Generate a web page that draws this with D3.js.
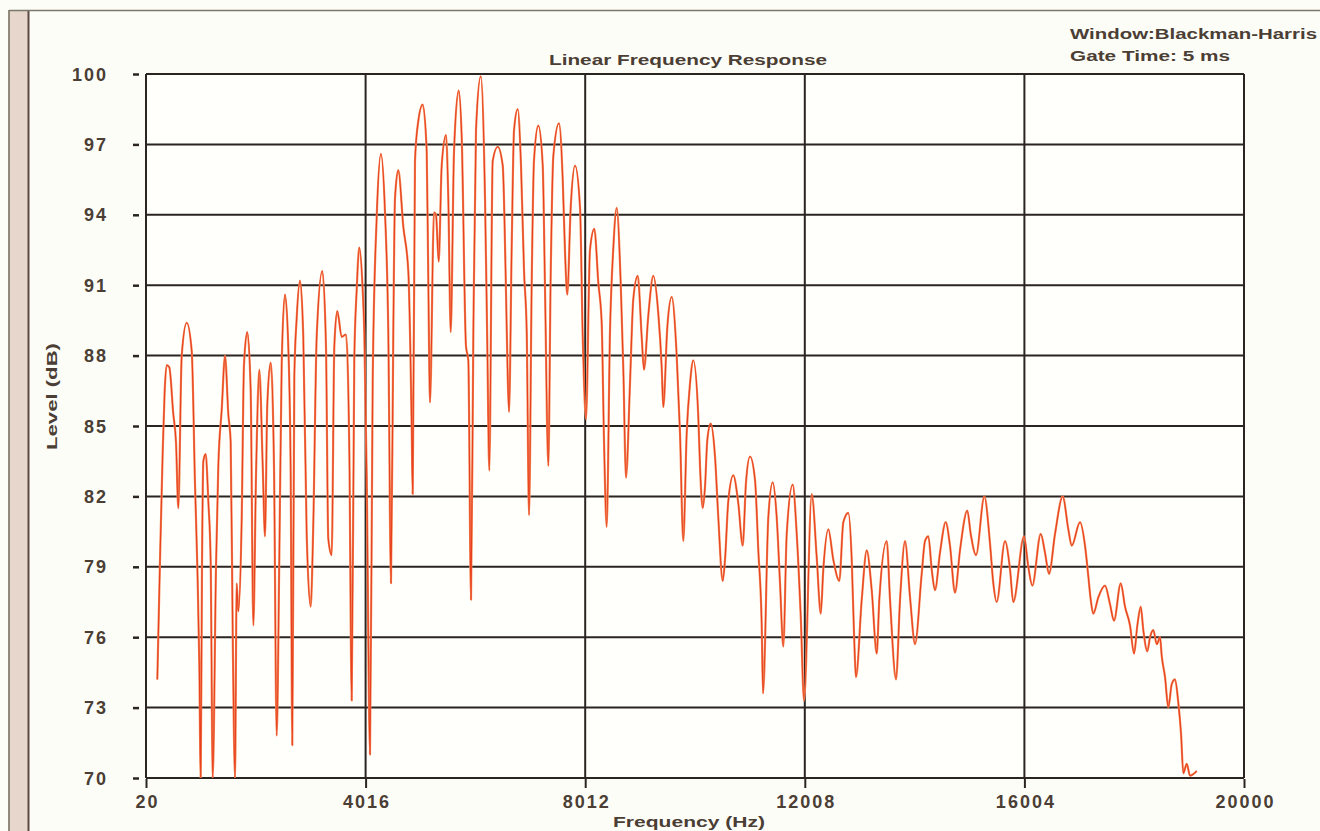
<!DOCTYPE html>
<html>
<head>
<meta charset="utf-8">
<script src="https://cdn.jsdelivr.net/npm/d3@7"></script>
<style>
  html, body { margin: 0; padding: 0; background: #fdfdf7; }
  svg { display: block; }
  text { font-family: "Liberation Sans", Arial, sans-serif; font-weight: bold; fill: #4b3e35; }
</style>
</head>
<body>
<svg id="chart" width="1320" height="831"></svg>
<script>
// ---- data ----
const xTicks = [20, 4016, 8012, 12008, 16004, 20000];
const yTicks = [70, 73, 76, 79, 82, 85, 88, 91, 94, 97, 100];
const titleText = "Linear Frequency Response";
const infoLines = ["Window:Blackman-Harris", "Gate Time: 5 ms"];
const xLabel = "Frequency (Hz)";
const yLabel = "Level (dB)";

const freqHz = [
  226,275,324,360,397,444,517,566,608,670,
  761,852,912,954,990,1015,1039,1063,1106,1154,
  1197,1234,1294,1336,1398,1458,1518,1561,1598,1640,
  1670,1700,1761,1803,1863,1925,1973,2022,2082,2144,
  2185,2227,2289,2349,2398,2446,2489,2549,2609,2653,
  2682,2719,2762,2822,2882,2944,3017,3064,3126,3228,
  3295,3337,3399,3447,3501,3581,3659,3720,3763,3810,
  3854,3901,3963,3992,4036,4096,4145,4218,4296,4369,
  4429,4478,4520,4551,4611,4702,4793,4855,4873,4915,
  4975,5055,5128,5157,5188,5261,5297,5346,5401,5479,
  5521,5565,5625,5710,5765,5843,5885,5934,5976,6025,
  6111,6189,6231,6267,6329,6420,6511,6565,6602,6626,
  6675,6717,6784,6844,6899,6948,6990,7039,7080,7159,
  7239,7281,7341,7384,7432,7535,7603,7645,7686,7748,
  7827,7918,7967,8027,8099,8178,8251,8312,8354,8403,
  8463,8524,8585,8658,8706,8755,8827,8887,8968,9040,
  9082,9160,9251,9342,9404,9433,9506,9586,9677,9737,
  9797,9859,9919,9979,10070,10101,10150,10192,10234,10296,
  10374,10434,10514,10556,10616,10707,10798,10878,10938,11011,
  11102,11162,11224,11248,11344,11424,11497,11557,11617,11679,
  11788,11861,11934,11994,12134,12225,12298,12345,12436,12527,
  12636,12709,12800,12862,12903,12940,13044,13135,13226,13317,
  13364,13499,13559,13668,13741,13832,13923,14014,14135,14196,
  14256,14317,14377,14468,14572,14650,14741,14832,14965,15027,
  15124,15275,15378,15438,15500,15651,15742,15802,15997,16075,
  16148,16301,16379,16452,16561,16701,16803,16865,17016,17107,
  17167,17211,17258,17349,17471,17562,17635,17757,17835,17926,
  17999,18059,18121,18168,18241,18290,18350,18412,18472,18503,
  18563,18623,18685,18745,18805,18854,18896,18958,19018,19140
];
const levelDb = [
  74.2,79.3,83.9,86.5,87.6,87.5,85.5,84.3,81.5,88.0,
  89.4,88.2,82.5,79.0,74.9,70.0,79.0,83.5,83.8,81.8,
  79.2,70.0,79.0,83.3,85.7,88.0,85.5,84.3,76.1,70.0,
  78.3,77.1,81.0,87.6,89.0,86.5,76.5,82.9,87.4,83.3,
  80.3,85.9,87.7,83.3,71.8,79.4,87.6,90.6,88.4,82.9,
  71.4,87.1,89.6,91.2,88.8,80.4,77.3,80.8,88.8,91.6,
  88.4,80.2,79.5,88.4,89.9,88.8,88.9,83.9,73.3,87.8,
  90.8,92.6,90.8,89.0,82.9,71.0,86.9,93.9,96.6,94.1,
  89.0,78.3,89.0,94.7,95.9,93.5,91.6,84.9,82.1,96.3,
  98.0,98.7,96.7,91.2,86.0,94.1,94.0,92.0,96.1,97.4,
  94.7,89.0,96.7,99.3,97.3,88.4,87.8,77.6,88.8,97.6,
  99.9,94.7,88.4,83.1,96.3,96.9,96.1,91.4,87.1,85.6,
  92.7,97.6,98.5,96.1,91.6,89.0,81.2,91.2,96.3,97.8,
  96.1,90.8,83.3,91.4,96.5,97.9,95.5,92.4,90.6,94.3,
  96.1,94.3,88.8,85.3,92.5,93.4,91.1,89.4,84.4,80.7,
  89.0,92.6,94.3,91.1,87.4,82.8,86.8,90.4,91.4,88.8,
  87.4,89.7,91.4,89.8,87.5,85.8,89.2,90.5,88.0,84.7,
  80.1,84.7,86.8,87.8,85.4,83.3,81.5,82.4,84.4,85.1,
  83.7,81.1,78.4,79.3,81.8,82.9,81.7,79.9,82.6,83.7,
  82.7,79.7,76.5,73.6,81.1,82.6,81.1,78.3,75.6,80.4,
  82.5,80.4,76.9,73.3,82.1,79.4,77.0,78.9,80.6,79.3,
  78.4,80.9,81.3,79.3,76.2,74.3,77.6,79.7,78.0,75.3,
  77.6,80.1,77.6,74.2,77.6,80.1,77.7,75.7,78.7,80.1,
  80.3,78.9,78.0,79.6,80.9,79.9,77.9,79.7,81.4,80.4,
  79.5,82.0,80.0,78.3,77.5,80.1,78.9,77.5,80.3,79.0,
  78.2,80.4,79.6,78.7,80.4,82.0,80.6,79.9,80.9,79.9,
  78.6,77.6,77.0,77.7,78.2,77.4,76.7,78.3,77.3,76.5,
  75.3,76.5,77.3,76.3,75.4,76.0,76.3,75.7,76.0,75.2,
  74.3,73.0,74.0,74.2,73.2,71.9,70.2,70.6,70.1,70.3
];

// ---- layout ----
const svg = d3.select("#chart");
const W = 1320, H = 831;
const plot = { left: 146, right: 1244, top: 74, bottom: 778 };
const ink = "#2b2521";

const x = d3.scaleLinear().domain([xTicks[0], xTicks[xTicks.length - 1]]).range([plot.left, plot.right]);
const y = d3.scaleLinear().domain([yTicks[0], yTicks[yTicks.length - 1]]).range([plot.bottom, plot.top]);

svg.append("rect").attr("width", W).attr("height", H).attr("fill", "#fdfdf7");

// left frame band and top rule
svg.append("rect").attr("x", 9).attr("y", 10).attr("width", 19).attr("height", H - 10).attr("fill", "#e6d6cb");
svg.append("line").attr("x1", 9).attr("x2", 9).attr("y1", 10).attr("y2", H).attr("stroke", "#77705f").attr("stroke-width", 1.6);
svg.append("line").attr("x1", 28.5).attr("x2", 28.5).attr("y1", 10).attr("y2", H).attr("stroke", "#5d4843").attr("stroke-width", 2);
svg.append("line").attr("x1", 9).attr("x2", W).attr("y1", 10.5).attr("y2", 10.5).attr("stroke", "#7d786c").attr("stroke-width", 1.6);

// plot background
svg.append("rect").attr("x", plot.left).attr("y", plot.top)
  .attr("width", plot.right - plot.left).attr("height", plot.bottom - plot.top)
  .attr("fill", "#fffffb");

// grid
const grid = svg.append("g");
grid.selectAll("line.h").data(yTicks).join("line").attr("class", "h")
  .attr("x1", plot.left).attr("x2", plot.right)
  .attr("y1", d => y(d)).attr("y2", d => y(d))
  .attr("stroke", ink).attr("stroke-width", 2);
grid.selectAll("line.v").data(xTicks).join("line").attr("class", "v")
  .attr("x1", d => x(d)).attr("x2", d => x(d))
  .attr("y1", plot.top).attr("y2", plot.bottom)
  .attr("stroke", ink).attr("stroke-width", 2);

// curve
svg.append("clipPath").attr("id", "clip").append("rect")
  .attr("x", plot.left).attr("y", plot.top - 1)
  .attr("width", plot.right - plot.left).attr("height", plot.bottom - plot.top + 1);

const pts = freqHz.map((f, i) => [f, levelDb[i]]);
const line = d3.line().x(d => x(d[0])).y(d => y(d[1])).curve(d3.curveMonotoneX);
const cg = svg.append("g").attr("clip-path", "url(#clip)");
cg.append("path").datum(pts).attr("d", line).attr("fill", "none")
  .attr("stroke", "#f38a5c").attr("stroke-width", 2.2).attr("stroke-linejoin", "round");
cg.append("path").datum(pts).attr("d", line).attr("fill", "none")
  .attr("stroke", "#e8401e").attr("stroke-width", 1.1).attr("stroke-linejoin", "round");

// axes
const yAxis = d3.axisLeft(y).tickValues(yTicks).tickSize(6).tickPadding(25).tickFormat(d3.format("d"));
const gy = svg.append("g").attr("transform", "translate(139,0)").call(yAxis);
gy.select(".domain").remove();
gy.selectAll(".tick line").attr("stroke", ink).attr("stroke-width", 2.5);
gy.selectAll(".tick text").attr("fill", "#4b3e35").style("font-size", "18px")
  .style("letter-spacing", "2px").attr("dy", "0.34em")
  .style("font-family", "'Liberation Sans', Arial, sans-serif").style("font-weight", "bold");

const xAxis = d3.axisBottom(x).tickValues(xTicks).tickSize(9).tickPadding(7).tickFormat(d3.format("d"));
const gx = svg.append("g").attr("transform", `translate(0,${plot.bottom + 1})`).call(xAxis);
gx.select(".domain").remove();
gx.selectAll(".tick line").attr("stroke", ink).attr("stroke-width", 2);
gx.selectAll(".tick text").attr("fill", "#4b3e35").style("font-size", "18px")
  .style("letter-spacing", "2px").attr("dx", "1px")
  .style("font-family", "'Liberation Sans', Arial, sans-serif").style("font-weight", "bold");

// titles and labels
svg.append("text").attr("x", 549).attr("y", 65).style("font-size", "14px")
  .attr("textLength", 278).attr("lengthAdjust", "spacingAndGlyphs").text(titleText);

svg.selectAll("text.info").data(infoLines).join("text").attr("class", "info")
  .attr("x", 1070).attr("y", (d, i) => 39 + i * 22).style("font-size", "14px")
  .attr("textLength", (d, i) => i === 0 ? 247 : 160).attr("lengthAdjust", "spacingAndGlyphs")
  .text(d => d);

svg.append("text").attr("x", 613).attr("y", 827).style("font-size", "15px")
  .attr("textLength", 152).attr("lengthAdjust", "spacingAndGlyphs").text(xLabel);

svg.append("text").attr("transform", "translate(57,450) rotate(-90)").style("font-size", "15px")
  .attr("textLength", 107).attr("lengthAdjust", "spacingAndGlyphs").text(yLabel);
</script>
</body>
</html>
